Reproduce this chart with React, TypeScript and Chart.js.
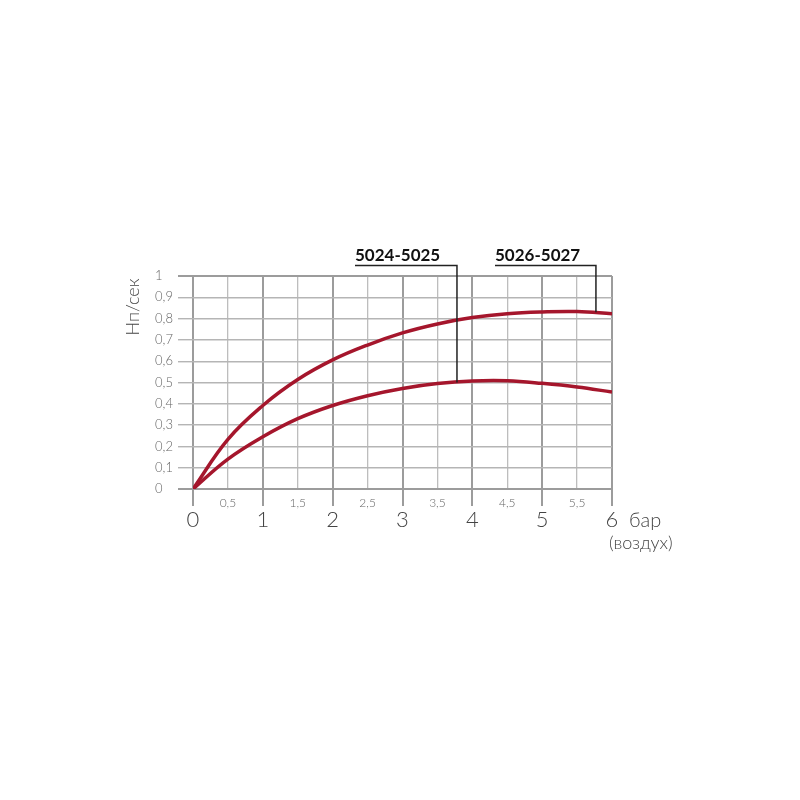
import React, { useEffect, useRef } from "react";
import { Chart, registerables } from "chart.js";

Chart.register(...registerables);

const xValues = [0, 0.5, 1, 1.5, 2, 2.5, 3, 3.5, 4, 4.5, 5, 5.5, 6];
const series5026 = [0, 0.233, 0.392, 0.514, 0.606, 0.676, 0.733, 0.775, 0.805, 0.823, 0.831, 0.833, 0.823];
const series5024 = [0, 0.14, 0.245, 0.33, 0.392, 0.438, 0.472, 0.495, 0.507, 0.508, 0.496, 0.479, 0.455];
const yTickLabels = ["0", "0,1", "0,2", "0,3", "0,4", "0,5", "0,6", "0,7", "0,8", "0,9", "1"];
const xMajorLabels = ["0", "1", "2", "3", "4", "5", "6"];
const xMinorLabels = ["0,5", "1,5", "2,5", "3,5", "4,5", "5,5"];
const calloutLabels = ["5024-5025", "5026-5027"];
const calloutX = [3.78, 5.77];
const calloutY = [0.5, 0.83];
const calloutTextX = [355, 495];
const yTitle = "Нп/сек";
const xUnit = "бар";
const xUnit2 = "(воздух)";

const RED = "#a5162c";
const FONT = "Lato, 'DejaVu Sans', sans-serif";

const textPlugin = {
  id: "texts",
  afterDraw(chart: any) {
    const ctx = chart.ctx;
    const xs = chart.scales.x;
    const ys = chart.scales.y;
    ctx.save();
    // y tick labels
    ctx.fillStyle = "#666";
    ctx.font = `300 13px ${FONT}`;
    ctx.textAlign = "left";
    ctx.textBaseline = "middle";
    yTickLabels.forEach((t, i) => {
      ctx.fillText(t, 155, ys.getPixelForValue(i / 10));
    });
    // x major labels
    ctx.fillStyle = "#444";
    ctx.font = `300 22px ${FONT}`;
    ctx.textAlign = "center";
    xMajorLabels.forEach((t, i) => {
      ctx.fillText(t, xs.getPixelForValue(i), 520);
    });
    // x minor labels
    ctx.fillStyle = "#666";
    ctx.font = `300 12px ${FONT}`;
    xMinorLabels.forEach((t, i) => {
      ctx.fillText(t, xs.getPixelForValue(i + 0.5), 503);
    });
    // units
    ctx.fillStyle = "#444";
    ctx.textAlign = "left";
    ctx.font = `300 20px ${FONT}`;
    ctx.fillText(xUnit, 629, 521);
    ctx.font = `300 18px ${FONT}`;
    ctx.fillText(xUnit2, 609, 543);
    // y title
    ctx.save();
    ctx.translate(133, 307);
    ctx.rotate(-Math.PI / 2);
    ctx.textAlign = "center";
    ctx.font = `300 18px ${FONT}`;
    ctx.fillStyle = "#444";
    ctx.fillText(yTitle, 0, 0);
    ctx.restore();
    // callouts
    calloutLabels.forEach((t, i) => {
      const px = xs.getPixelForValue(calloutX[i]);
      const py = ys.getPixelForValue(calloutY[i]);
      ctx.fillStyle = "#111";
      ctx.font = `bold 17px ${FONT}`;
      ctx.textAlign = "left";
      ctx.textBaseline = "alphabetic";
      ctx.fillText(t, calloutTextX[i], 261);
      ctx.strokeStyle = "#222";
      ctx.lineWidth = 1.5;
      ctx.beginPath();
      ctx.moveTo(calloutTextX[i], 265.5);
      ctx.lineTo(px, 265.5);
      ctx.lineTo(px, py);
      ctx.stroke();
    });
    ctx.restore();
  },
};

export default function App() {
  const ref = useRef<HTMLCanvasElement>(null);
  useEffect(() => {
    document.body.style.margin = "0";
    const chart = new Chart(ref.current!, {
      type: "line",
      data: {
        datasets: [
          {
            label: calloutLabels[1],
            data: xValues.map((x, i) => ({ x, y: series5026[i] })),
            borderColor: RED,
            borderWidth: 3.5,
            pointRadius: 0,
            tension: 0.4,
          },
          {
            label: calloutLabels[0],
            data: xValues.map((x, i) => ({ x, y: series5024[i] })),
            borderColor: RED,
            borderWidth: 3.5,
            pointRadius: 0,
            tension: 0.4,
          },
        ],
      },
      options: {
        animation: false,
        responsive: false,
        layout: { padding: { left: 178, right: 188, top: 276, bottom: 800 - 489 - 17 } },
        plugins: { legend: { display: false }, tooltip: { enabled: false } },
        scales: {
          x: {
            type: "linear",
            min: 0,
            max: 6,
            ticks: { stepSize: 0.5, display: false },
            afterFit: (s: any) => {
              s.height = 17;
            },
            border: { display: false },
            grid: {
              drawTicks: true,
              tickLength: 17,
              color: (c: any) => (c.tick && c.tick.value % 1 === 0 ? "#9c9c9c" : "#bdbdbd"),
              lineWidth: (c: any) => (c.tick && c.tick.value % 1 === 0 ? 2 : 1.3),
              tickColor: (c: any) => (c.tick && c.tick.value % 1 === 0 ? "#9c9c9c" : "rgba(0,0,0,0)"),
              tickWidth: 2,
            },
          },
          y: {
            type: "linear",
            min: 0,
            max: 1,
            ticks: { stepSize: 0.1, display: false },
            afterFit: (s: any) => {
              s.width = 15;
            },
            border: { display: false },
            grid: {
              drawTicks: true,
              tickLength: 15,
              color: (c: any) => (c.tick && (c.tick.value === 0 || c.tick.value === 1) ? "#9c9c9c" : "#b5b5b5"),
              lineWidth: (c: any) => (c.tick && (c.tick.value === 0 || c.tick.value === 1) ? 2 : 1.4),
              tickColor: (c: any) => (c.tick && (c.tick.value === 0 || c.tick.value === 1) ? "#9c9c9c" : "#b5b5b5"),
            },
          },
        },
      },
      plugins: [textPlugin],
    } as any);
    return () => chart.destroy();
  }, []);
  return (
    <div style={{ width: 800, height: 800, background: "#fff" }}>
      <canvas ref={ref} width={800} height={800} />
    </div>
  );
}
